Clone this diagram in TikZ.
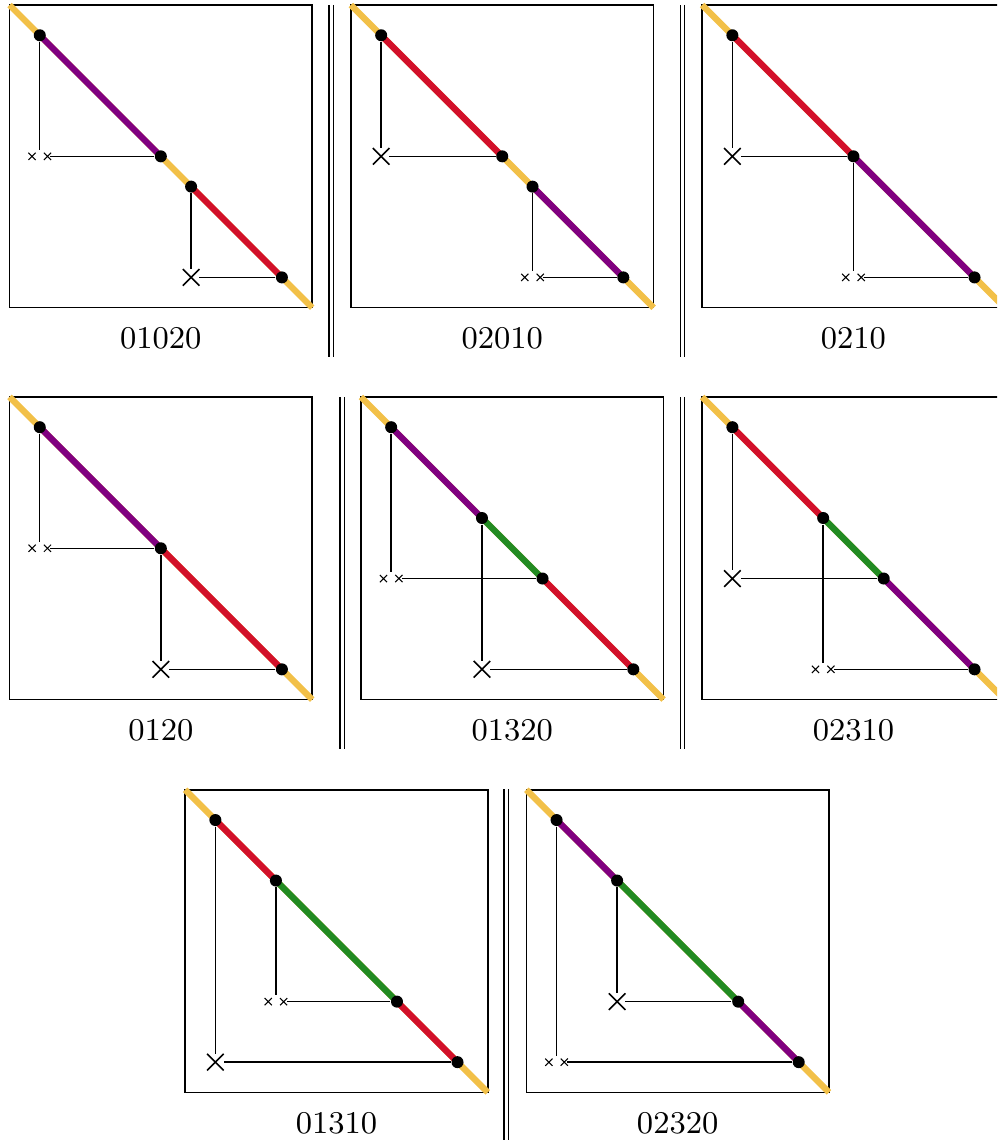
\documentclass[tikz,border=0pt]{standalone}
\usetikzlibrary{shapes.misc}
\definecolor{cY}{RGB}{242,192,72}
\definecolor{cR}{RGB}{210,16,42}
\definecolor{cP}{RGB}{128,0,128}
\definecolor{cG}{RGB}{34,139,34}
\tikzset{
  frame/.style={draw=black, line width=0.45pt},
  diag/.style={line width=1.8pt, line cap=butt},
  dot/.style={circle, fill=black, minimum size=0.12cm, inner sep=0pt},
  bigx/.style={cross out, draw=black, line width=0.45pt, minimum size=0.15cm, inner sep=0pt},
  dblbox/.style={rectangle, minimum width=0.2cm, minimum height=0.112cm, inner sep=0pt},
  xmark/.style={line width=0.3pt},
  chord/.style={line width=0.4pt},
  lab/.style={anchor=base, font=\fontsize{9}{11}\selectfont, inner sep=0pt},
  sepline/.style={double, double distance=0.03cm, line width=0.35pt},
  panel/.style={x=3.025cm, y=-3.025cm}
}
\newcommand\panelbase[2]{%
  \draw[frame] (0,0) rectangle (1,1);
  \node[lab] (#1lab) at (0.5,1.134) {#2};
  \draw[diag, cY] (0,0) -- (1,1);
}
\newcommand\seg[3]{\draw[diag,#1] (#2,#2) -- (#3,#3);}
\newcommand\dblx[2]{%
  \node[dblbox] (#1) at (#2) {};
  \draw[xmark] ([xshift=-0.077cm]#1.center) +(-0.036cm,-0.036cm) -- +(0.036cm,0.036cm)
                                            +(-0.036cm,0.036cm) -- +(0.036cm,-0.036cm);
  \draw[xmark] ([xshift=0.077cm]#1.center) +(-0.036cm,-0.036cm) -- +(0.036cm,0.036cm)
                                           +(-0.036cm,0.036cm) -- +(0.036cm,-0.036cm);
}
\begin{document}
\begin{tikzpicture}[x=0.01cm, y=-0.01cm]
\useasboundingbox (0,0) rectangle (997,1140);
\clip (0,0) rectangle (997,1140);

% separators
\draw[sepline] (331,5) -- (331,357);
\draw[sepline] (682.5,5) -- (682.5,357);
\draw[sepline] (342,397) -- (342,749);
\draw[sepline] (682.5,397) -- (682.5,749);
\draw[sepline] (506,789) -- (506,1142);

% P1 01020
\begin{scope}[panel, shift={(0.095cm,-0.05cm)}]
\panelbase{a}{01020}
\seg{cP}{.1}{.5}
\seg{cR}{.6}{.9}
\node[dot] (a1) at (.1,.1) {};
\node[dot] (a2) at (.5,.5) {};
\node[dot] (a3) at (.6,.6) {};
\node[dot] (a4) at (.9,.9) {};
\dblx{ax1}{.1,.5}
\node[bigx] (ax2) at (.6,.9) {};
\draw[chord] (a1) -- (ax1); \draw[chord] (a2) -- (ax1);
\draw[chord] (a3) -- (ax2); \draw[chord] (a4) -- (ax2);
\end{scope}

% P2 02010
\begin{scope}[panel, shift={(3.507cm,-0.05cm)}]
\panelbase{b}{02010}
\seg{cR}{.1}{.5}
\seg{cP}{.6}{.9}
\node[dot] (b1) at (.1,.1) {};
\node[dot] (b2) at (.5,.5) {};
\node[dot] (b3) at (.6,.6) {};
\node[dot] (b4) at (.9,.9) {};
\node[bigx] (bx1) at (.1,.5) {};
\dblx{bx2}{.6,.9}
\draw[chord] (b1) -- (bx1); \draw[chord] (b2) -- (bx1);
\draw[chord] (b3) -- (bx2); \draw[chord] (b4) -- (bx2);
\end{scope}

% P3 0210
\begin{scope}[panel, shift={(7.017cm,-0.05cm)}]
\panelbase{c}{0210}
\seg{cR}{.1}{.5}
\seg{cP}{.5}{.9}
\node[dot] (c1) at (.1,.1) {};
\node[dot] (c2) at (.5,.5) {};
\node[dot] (c3) at (.9,.9) {};
\node[bigx] (cx1) at (.1,.5) {};
\dblx{cx2}{.5,.9}
\draw[chord] (c1) -- (cx1); \draw[chord] (c2) -- (cx1);
\draw[chord] (c2) -- (cx2); \draw[chord] (c3) -- (cx2);
\end{scope}

% P4 0120
\begin{scope}[panel, shift={(0.095cm,-3.967cm)}]
\panelbase{d}{0120}
\seg{cP}{.1}{.5}
\seg{cR}{.5}{.9}
\node[dot] (d1) at (.1,.1) {};
\node[dot] (d2) at (.5,.5) {};
\node[dot] (d3) at (.9,.9) {};
\dblx{dx1}{.1,.5}
\node[bigx] (dx2) at (.5,.9) {};
\draw[chord] (d1) -- (dx1); \draw[chord] (d2) -- (dx1);
\draw[chord] (d2) -- (dx2); \draw[chord] (d3) -- (dx2);
\end{scope}

% P5 01320
\begin{scope}[panel, shift={(3.607cm,-3.967cm)}]
\panelbase{e}{01320}
\seg{cP}{.1}{.4}
\seg{cG}{.4}{.6}
\seg{cR}{.6}{.9}
\node[dot] (e1) at (.1,.1) {};
\node[dot] (e2) at (.4,.4) {};
\node[dot] (e3) at (.6,.6) {};
\node[dot] (e4) at (.9,.9) {};
\dblx{ex1}{.1,.6}
\node[bigx] (ex2) at (.4,.9) {};
\draw[chord] (e1) -- (ex1); \draw[chord] (e3) -- (ex1);
\draw[chord] (e2) -- (ex2); \draw[chord] (e4) -- (ex2);
\end{scope}

% P6 02310
\begin{scope}[panel, shift={(7.017cm,-3.967cm)}]
\panelbase{f}{02310}
\seg{cR}{.1}{.4}
\seg{cG}{.4}{.6}
\seg{cP}{.6}{.9}
\node[dot] (f1) at (.1,.1) {};
\node[dot] (f2) at (.4,.4) {};
\node[dot] (f3) at (.6,.6) {};
\node[dot] (f4) at (.9,.9) {};
\node[bigx] (fx1) at (.1,.6) {};
\dblx{fx2}{.4,.9}
\draw[chord] (f1) -- (fx1); \draw[chord] (f3) -- (fx1);
\draw[chord] (f2) -- (fx2); \draw[chord] (f4) -- (fx2);
\end{scope}

% P7 01310
\begin{scope}[panel, shift={(1.85cm,-7.893cm)}]
\panelbase{g}{01310}
\seg{cR}{.1}{.3}
\seg{cG}{.3}{.7}
\seg{cR}{.7}{.9}
\node[dot] (g1) at (.1,.1) {};
\node[dot] (g2) at (.3,.3) {};
\node[dot] (g3) at (.7,.7) {};
\node[dot] (g4) at (.9,.9) {};
\node[bigx] (gx1) at (.1,.9) {};
\dblx{gx2}{.3,.7}
\draw[chord] (g1) -- (gx1); \draw[chord] (g4) -- (gx1);
\draw[chord] (g2) -- (gx2); \draw[chord] (g3) -- (gx2);
\end{scope}

% P8 02320
\begin{scope}[panel, shift={(5.26cm,-7.893cm)}]
\panelbase{h}{02320}
\seg{cP}{.1}{.3}
\seg{cG}{.3}{.7}
\seg{cP}{.7}{.9}
\node[dot] (h1) at (.1,.1) {};
\node[dot] (h2) at (.3,.3) {};
\node[dot] (h3) at (.7,.7) {};
\node[dot] (h4) at (.9,.9) {};
\dblx{hx1}{.1,.9}
\node[bigx] (hx2) at (.3,.7) {};
\draw[chord] (h1) -- (hx1); \draw[chord] (h4) -- (hx1);
\draw[chord] (h2) -- (hx2); \draw[chord] (h3) -- (hx2);
\end{scope}
\end{tikzpicture}
\end{document}
